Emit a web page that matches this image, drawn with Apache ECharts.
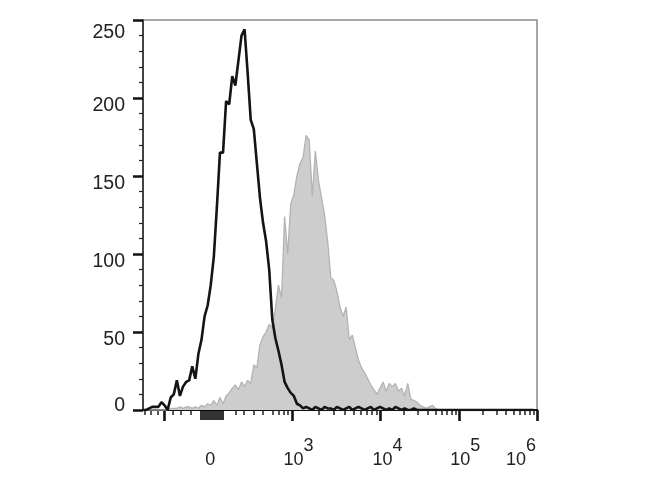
<!DOCTYPE html>
<html><head><meta charset="utf-8">
<script src="https://cdn.jsdelivr.net/npm/echarts@6/dist/echarts.min.js"></script>
<style>html,body{margin:0;padding:0;background:#fff}#c{width:670px;height:500px}</style>
</head><body><div id="c"></div>
<script>
// histogram counts per display channel (128 channels across the axis)
const controlCounts = [
0,0,1,2,2,2,5,3,0,8,
10,19,9,15,18,19,28,20,36,45,
60,67,80,98,130,165,165,198,196,214,
208,224,240,244,216,186,180,158,136,120,
108,90,58,46,38,29,18,14,11,9,
4,3,1,2,1,0,2,1,0,2,
1,1,0,2,1,0,1,2,0,1,
2,1,0,1,2,0,1,2,1,0,
1,0,2,1,0,1,0,0,1,0,
0,0,0,0,0,0,0,0,0,0,
0,0,0,0,0,0,0,0,0,0,
0,0,0,0,0,0,0,0,0,0,
0,0,0,0,0,0,0,0];
const stainedCounts = [
0,0,0,0,0,0,0,0,0,1,
1,1,2,1,2,2,1,2,1,3,
2,4,3,6,3,8,4,9,11,14,
16,13,18,15,19,17,29,27,42,47,
50,55,53,65,80,72,124,100,132,138,
150,158,162,176,173,137,166,147,136,125,
108,85,83,76,66,60,66,45,48,40,
32,27,24,20,16,13,10,14,18,12,
17,15,17,12,14,9,17,7,6,5,
3,2,1,2,3,1,0,0,0,0,
0,0,0,0,0,0,0,0,0,0,
0,0,0,0,0,0,0,0,0,0,
0,0,0,0,0,0,0,0];

// axis (display channel) positions
const decadeChannels = [48.4, 77.1, 102.7, 128];       // 10^3 .. 10^6
const lowMajorChannels = [6.9];
const zeroClusterChannels = [18.8,19.5,20.1,20.8,21.4,22.1,22.7,23.4,24.0,24.7,25.3,25.9];
const lowMinorChannels = [0.65,2.6,4.8,9.6,12.3,15.6,30.1,32.7,36.0,38.8,42.0,44.1,45.7,47.0];
const xLabelBases = ['0','10','10','10','10'];
const xLabelExps = ['','3','4','5','6'];
const xLabelChannels = [22.7, 50.5, 79.4, 104.7, 122.8];

const majorTicks = lowMajorChannels.concat(decadeChannels);
const minorTicks = lowMinorChannels.slice();
for (let d = 0; d < decadeChannels.length - 1; d++) {
  const a = decadeChannels[d], b = decadeChannels[d + 1];
  for (let k = 2; k <= 9; k++) minorTicks.push(a + Math.log10(k) * (b - a));
}

const FONT = 'Liberation Sans, Arial, sans-serif';
const chart = echarts.init(document.getElementById('c'));
const xBase = {type: 'value', min: 0, max: 128, gridIndex: 0, position: 'bottom', splitLine: {show: false}};
chart.setOption({
  animation: false,
  backgroundColor: '#fff',
  grid: {left: 143, right: 133, top: 20, bottom: 90, show: true, borderColor: '#8a8a8a', borderWidth: 1.5},
  xAxis: [
    Object.assign({}, xBase, {
      axisLine: {show: true, onZero: false, lineStyle: {color: '#111', width: 2}},
      axisTick: {show: true, customValues: majorTicks, length: 11, lineStyle: {color: '#111', width: 2.6}},
      axisLabel: {show: false}
    }),
    Object.assign({}, xBase, {
      axisLine: {show: false},
      axisTick: {show: true, customValues: minorTicks, length: 5, lineStyle: {color: '#222', width: 1.5}},
      axisLabel: {show: false}
    }),
    Object.assign({}, xBase, {
      axisLine: {show: false},
      axisTick: {show: true, customValues: zeroClusterChannels, length: 10, lineStyle: {color: '#000', width: 1.6}},
      axisLabel: {show: false}
    }),
    Object.assign({}, xBase, {
      axisLine: {show: false},
      axisTick: {show: false},
      axisLabel: {
        show: true, customValues: xLabelChannels, margin: 27, showMinLabel: true, showMaxLabel: true,
        formatter: function (v) {
          let idx = 0, best = 1e9;
          xLabelChannels.forEach(function (c, i) { if (Math.abs(c - v) < best) { best = Math.abs(c - v); idx = i; } });
          return '{b|' + xLabelBases[idx] + '}{s|' + (xLabelExps[idx] || ' ') + '}';
        },
        rich: {
          b: {fontSize: 18, fontFamily: FONT, color: '#222', verticalAlign: 'bottom'},
          s: {fontSize: 18, fontFamily: FONT, color: '#222', verticalAlign: 'bottom', padding: [0, 0, 14, 0]}
        }
      }
    })
  ],
  yAxis: {
    type: 'value', min: 0, max: 250, interval: 50,
    splitLine: {show: false},
    axisLine: {show: true, onZero: false, lineStyle: {color: '#222', width: 1.5}},
    axisTick: {show: true, length: 10, lineStyle: {color: '#111', width: 2.5}},
    minorTick: {show: true, splitNumber: 5, length: 4, lineStyle: {color: '#222', width: 1.2}},
    axisLabel: {
      margin: 18, showMinLabel: true, showMaxLabel: true,
      formatter: function (v) { return v === 0 ? '{z|0}' : (v === 250 ? '{t|250}' : '{n|' + v + '}'); },
      rich: {
        n: {fontSize: 19.5, fontFamily: FONT, color: '#222', padding: [16, 0, 0, 0]},
        t: {fontSize: 19.5, fontFamily: FONT, color: '#222', padding: [26, 0, 0, 0]},
        z: {fontSize: 19.5, fontFamily: FONT, color: '#222', padding: [0, 0, 8, 0]}
      }
    }
  },
  series: [
    {
      type: 'line', xAxisIndex: 0, showSymbol: false, symbol: 'none',
      data: stainedCounts.map(function (v, i) { return [i, v]; }),
      lineStyle: {color: '#b3b3b3', width: 1.3},
      areaStyle: {color: '#cdcdcd', opacity: 1},
      z: 2
    },
    {
      type: 'line', xAxisIndex: 0, showSymbol: false, symbol: 'none',
      data: controlCounts.map(function (v, i) { return [i, v]; }),
      lineStyle: {color: '#141414', width: 2.6},
      z: 3
    }
  ]
});
</script>
</body></html>
